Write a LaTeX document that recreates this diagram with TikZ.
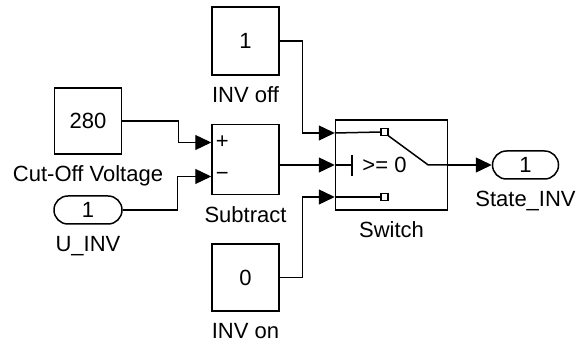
\documentclass[tikz,border=0pt]{standalone}
\usepackage{fontspec}
\setmainfont{Liberation Sans}
\usetikzlibrary{arrows.meta, positioning, calc}

\begin{document}
\begin{tikzpicture}[x=1pt, y=-1pt, font=\fontsize{22}{26}\selectfont,
    blk/.style={draw, line width=1.5pt, inner sep=0pt, minimum width=67pt, minimum height=68pt},
    portblk/.style={draw, line width=1.5pt, inner sep=0pt, rounded corners=13.9pt,
                    minimum width=68pt, minimum height=28pt},
    lbl/.style={inner sep=0pt},
    wire/.style={line width=1.3pt, -{Triangle[length=16pt, width=15pt]}},
    inner/.style={line width=1.5pt}]
    \useasboundingbox (0,0) rectangle (577,344);

    % sources
    \node[blk] (invoff) at (245.5,41) {1};
    \node[lbl, below=11pt of invoff] (invofflbl) {INV off};
    \node[blk, minimum height=66pt] (cutoff) at (88,121) {280};
    \node[lbl, below=11pt of cutoff] (cutofflbl) {Cut-Off Voltage};
    \node[portblk] (uinv) at (88,210) {1};
    \node[lbl, below=11pt of uinv] (uinvlbl) {U\_INV};
    \node[blk, minimum height=67pt] (invon) at (245.5,277.5) {0};
    \node[lbl, below=11pt of invon] (invonlbl) {INV on};

    % subtract
    \node[blk, minimum height=70pt] (sub) at (245.5,159.5) {};
    \node[lbl] (plus) at ($(sub.west)+(11,-17)$) {+};
    \node[lbl] (minus) at ($(sub.west)+(11,17)$) {−};
    \node[lbl, below=11pt of sub] (sublbl) {Subtract};
    \coordinate (subin1) at ($(sub.west)+(0,-17)$);
    \coordinate (subin2) at ($(sub.west)+(0,17)$);

    % switch
    \node[draw, line width=1.5pt, minimum width=112pt, minimum height=90pt] (sw) at (391.5,165) {};
    \node[lbl, below=11pt of sw] (swlbl) {Switch};
    \coordinate (swin1) at ($(sw.west)+(0,-32)$);
    \coordinate (swin3) at ($(sw.west)+(0,32)$);
    \coordinate (sq1) at ($(sw.center)+(-7,-33)$);
    \coordinate (sq3) at ($(sw.center)+(-7,32)$);
    \coordinate (pivot) at ($(sw.east)+(-20,0)$);
    \coordinate (bar) at ($(sw.west)+(17,0)$);
    \draw[inner] (swin1) -- ($(sq1)+(-3.5,0)$);
    \draw[inner] (sq1) +(-3.5,-3.5) rectangle +(3.5,3.5);
    \draw[inner] ($(sq1)+(3.5,3.5)$) -- (pivot) -- (sw.east);
    \draw[inner] (sw.west) -- (bar);
    \draw[inner] (bar) +(0,-10) -- +(0,11);
    \node[lbl] (cond) at ($(sw.center)+(-7,0)$) {>= 0};
    \draw[inner] (swin3) -- ($(sq3)+(-3.5,0)$);
    \draw[inner] (sq3) +(-3.5,-3.5) rectangle +(3.5,3.5);

    % output
    \node[portblk, minimum width=66pt] (stinv) at (525.5,165) {1};
    \node[lbl, below=11pt of stinv] (stinvlbl) {State\_INV};

    \draw[wire] (invoff.east) -- ++(23,0) |- (swin1);
    \draw[wire] (cutoff.east) -- ++(56,0) |- (subin1);
    \draw[wire] (uinv.east) -- ++(55,0) |- (subin2);
    \draw[wire] (sub.east |- sw.west) -- (sw.west);
    \draw[wire] (invon.east) -- ++(23,0) |- (swin3);
    \draw[wire] (sw.east) -- (stinv.west);
\end{tikzpicture}
\end{document}
